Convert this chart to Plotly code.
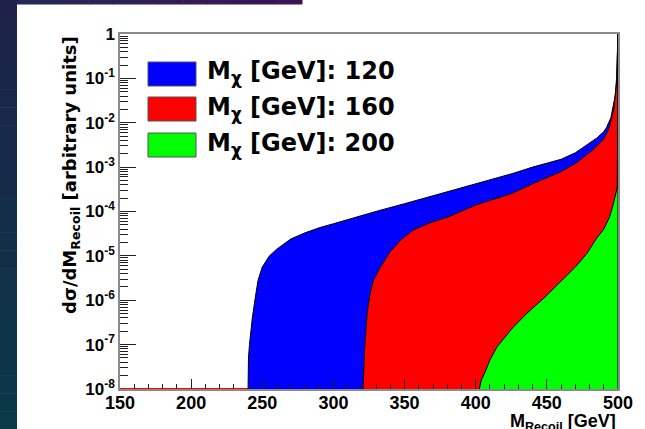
import plotly.graph_objects as go

# ---------------- data ----------------
masses = [120, 160, 200]
labels = ["M<sub>χ</sub> [GeV]: 120", "M<sub>χ</sub> [GeV]: 160", "M<sub>χ</sub> [GeV]: 200"]
colors = ["#0000ff", "#ff0000", "#00ff00"]

x_120 = [240.3, 241, 242, 243, 245, 247, 250, 255, 260, 270, 280, 290, 300, 310, 320, 333,
         350, 380, 400, 426, 440, 460, 470, 480, 485, 490, 492, 495, 497, 498, 499, 499.7, 500]
y_120 = [5.0e-8, 1.0e-7, 2.0e-7, 4.0e-7, 1.1e-6, 2.8e-6, 5.6e-6, 1.0e-5, 1.4e-5, 2.4e-5, 3.3e-5,
         4.3e-5, 5.3e-5, 6.6e-5, 8.2e-5, 1.07e-4, 1.5e-4, 2.75e-4, 4.2e-4, 7.2e-4, 1.0e-3,
         1.5e-3, 2.1e-3, 3.6e-3, 4.5e-3, 6.3e-3, 7.9e-3, 1.3e-2, 2.8e-2, 4.0e-2, 0.1, 0.3, 1.0]

x_160 = [321.5, 322, 323.7, 325.5, 328, 333, 340, 348, 356, 368, 380, 400, 426, 440, 460, 470,
         482, 490, 494, 497, 499, 499.7, 500]
y_160 = [4.0e-8, 8.9e-8, 5.1e-7, 1.26e-6, 2.8e-6, 5.6e-6, 1.26e-5, 2.4e-5, 3.8e-5, 5.6e-5,
         7.4e-5, 1.4e-4, 2.6e-4, 4.2e-4, 7.9e-4, 1.2e-3, 2.4e-3, 4.3e-3, 7.9e-3, 2.0e-2,
         7.9e-2, 0.3, 1.0]

x_200 = [403, 404, 406.5, 410, 415, 420, 426, 436, 448, 460, 470, 478, 485, 490, 494, 496.5,
         498.5, 499.5, 500]
y_200 = [1.26e-8, 1.6e-8, 2.4e-8, 4.5e-8, 8.9e-8, 1.4e-7, 2.4e-7, 5.1e-7, 1.12e-6, 2.7e-6,
         5.6e-6, 1.12e-5, 2.5e-5, 4.0e-5, 7.4e-5, 1.4e-4, 2.8e-4, 3.5e-4, 1.0]

starts = [240.0, 320.8, 402.5]
series_x = [x_120, x_160, x_200]
series_y = [y_120, y_160, y_200]

x_range = [150, 500]
y_exp_range = [-8, 0]
x_ticks = [150, 200, 250, 300, 350, 400, 450, 500]
y_ticks = [1e-8, 1e-7, 1e-6, 1e-5, 1e-4, 1e-3, 1e-2, 1e-1, 1]
y_ticktext = ["10<sup>-8</sup>", "10<sup>-7</sup>", "10<sup>-6</sup>", "10<sup>-5</sup>",
              "10<sup>-4</sup>", "10<sup>-3</sup>", "10<sup>-2</sup>", "10<sup>-1</sup>", "1"]

# ---------------- figure ----------------
W, H = 645, 429
ML, MR, MT, MB = 120, 27, 34, 40
PW, PH = W - ML - MR, H - MT - MB


def px(xp):
    return (xp - ML) / PW


def py(yp):
    return (H - MB - yp) / PH


ybase = 10 ** y_exp_range[0]
fig = go.Figure()

# red histogram baseline (empty bins drawn along the axis)
fig.add_trace(go.Scatter(x=[x_range[0], starts[0]], y=[ybase, ybase], mode="lines",
                         line=dict(color=colors[1], width=2), hoverinfo="skip",
                         showlegend=False))

for m, c, s, xs, ys in zip(masses, colors, starts, series_x, series_y):
    X = [s] + xs + [xs[-1]]
    Y = [ybase] + ys + [ybase]
    fig.add_trace(go.Scatter(x=X, y=Y, mode="lines", fill="toself", fillcolor=c,
                             line=dict(color="black", width=1), name=str(m),
                             showlegend=False))

shapes = []
# slide background strips (left and top)
n = 24
c0 = (0x1e, 0x22, 0x4a)
c1 = (0x0a, 0x3a, 0x48)
for i in range(n):
    t = i / (n - 1)
    col = tuple(int(c0[k] + (c1[k] - c0[k]) * t) for k in range(3))
    shapes.append(dict(type="rect", xref="paper", yref="paper", layer="above",
                       x0=px(0), x1=px(17), y0=py(H * i / n), y1=py(H * (i + 1) / n + 0.5),
                       fillcolor="rgb(%d,%d,%d)" % col, line=dict(width=0)))
m_ = 12
d0 = (0x24, 0x28, 0x55)
d1 = (0x3c, 0x12, 0x56)
for i in range(m_):
    t = i / (m_ - 1)
    col = tuple(int(d0[k] + (d1[k] - d0[k]) * t) for k in range(3))
    x0 = 17 + (302 - 17) * i / m_
    x1 = 17 + (302 - 17) * (i + 1) / m_ + 0.5
    shapes.append(dict(type="rect", xref="paper", yref="paper", layer="above",
                       x0=px(x0), x1=px(x1), y0=py(0), y1=py(4.5),
                       fillcolor="rgb(%d,%d,%d)" % col, line=dict(width=0)))

annotations = []
# legend built from the series
box_tops = [62, 97, 133]
for lab, c, bt in zip(labels, colors, box_tops):
    shapes.append(dict(type="rect", xref="paper", yref="paper",
                       x0=px(148), x1=px(196), y0=py(bt), y1=py(bt + 24),
                       fillcolor=c, line=dict(color="#555555", width=1)))
    annotations.append(dict(xref="paper", yref="paper", x=px(205), y=py(bt + 11),
                            xanchor="left", yanchor="middle", showarrow=False, text=lab,
                            font=dict(family="DejaVu Sans", size=24, color="black",
                                      weight="bold")))

# axis titles
annotations.append(dict(xref="paper", yref="paper", x=px(71), y=py(175), textangle=-90,
                        xanchor="center", yanchor="middle", showarrow=False,
                        text="dσ/dM<sub>Recoil</sub> [arbitrary units]",
                        font=dict(family="DejaVu Sans", size=18, color="black",
                                  weight="bold")))
annotations.append(dict(xref="paper", yref="paper", x=1.0, y=py(409), xanchor="right",
                        yanchor="top", showarrow=False, text="M<sub>Recoil</sub> [GeV]",
                        font=dict(family="Liberation Sans", size=18, color="black",
                                  weight="bold")))

fig.update_layout(
    width=W, height=H,
    margin=dict(l=ML, r=MR, t=MT, b=MB),
    paper_bgcolor="white", plot_bgcolor="white",
    shapes=shapes, annotations=annotations,
    xaxis=dict(range=x_range, tickvals=x_ticks, ticks="inside", ticklen=10, tickwidth=1,
               tickcolor="#222222", showgrid=False, zeroline=False,
               showline=True, linecolor="#8a8a8a", linewidth=1.5, mirror=True,
               ticklabelstandoff=-3,
               tickfont=dict(family="Liberation Sans", size=18, color="black", weight="bold"),
               minor=dict(ticks="inside", ticklen=5, dtick=10, tickcolor="#222222",
                          showgrid=False)),
    yaxis=dict(type="log", range=y_exp_range, tickvals=y_ticks, ticktext=y_ticktext,
               ticks="inside", ticklen=16, tickwidth=1, tickcolor="#222222",
               showgrid=False, zeroline=False,
               showline=True, linecolor="#8a8a8a", linewidth=1.5, mirror=True,
               tickfont=dict(family="Liberation Sans", size=17, color="black", weight="bold"),
               minor=dict(ticks="inside", ticklen=8, dtick="D1", tickcolor="#222222",
                          showgrid=False)),
)

fig.write_html("out.html")
